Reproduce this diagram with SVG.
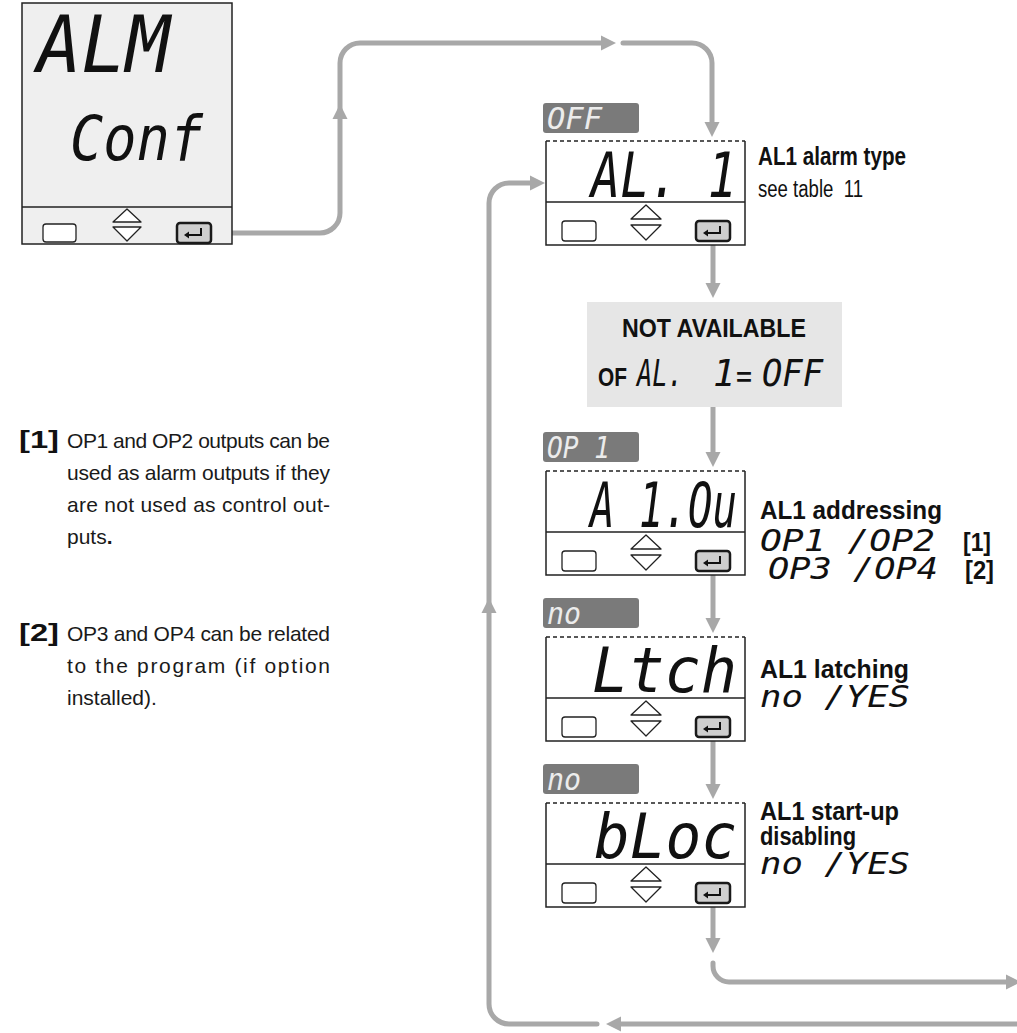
<svg xmlns="http://www.w3.org/2000/svg" xmlns:xlink="http://www.w3.org/1999/xlink" width="1017" height="1033" viewBox="0 0 1017 1033">
<style>
.bg{fill:#ffffff}
.edge{fill:none;stroke:#222;stroke-width:1.5}
.dash{fill:none;stroke:#222;stroke-width:1.5;stroke-dasharray:4 3}
.key{fill:#ffffff;stroke:#222;stroke-width:1.3}
.ent{fill:#cfcfcf;stroke:#1a1a1a;stroke-width:2.5}
.entsym{fill:none;stroke:#111;stroke-width:2}
.conn{fill:none;stroke:#a8a8a8;stroke-width:5}
.ah{fill:#a8a8a8}
.tag{fill:#7a7a7a}
.seg{font-family:"DejaVu Sans Mono",monospace;font-style:italic;fill:#111}
.tagt{font-family:"DejaVu Sans Mono",monospace;font-style:italic;fill:#ececec;font-size:30px}
.hd{font-family:"Liberation Sans Narrow","Liberation Sans",sans-serif;font-weight:bold;fill:#111;font-size:25px}
.rg{font-family:"Liberation Sans Narrow","Liberation Sans",sans-serif;fill:#111;font-size:23px}
.body{font-family:"Liberation Sans",Arial,sans-serif;fill:#1a1a1a;font-size:21px}
.bb{font-family:"Liberation Sans Narrow","Liberation Sans",sans-serif;font-weight:bold;fill:#111;font-size:23px}
</style>
<defs>
<path id="ah" class="ah" d="M0,0 L-15,-7.5 L-15,7.5 Z"/>
<g id="enter">
<rect class="ent" x="0" y="0" width="34" height="20" rx="3"/>
<path class="entsym" d="M24,5 V12 H11"/>
<path d="M7,12 L12,8.5 L12,15.5 Z" fill="#111"/>
</g>
<g id="keys">
<rect class="key" x="16" y="80" width="34" height="20" rx="3"/>
<path class="key" stroke-linejoin="round" d="M85,78 L100,64 L115,78 Z"/>
<path class="key" stroke-linejoin="round" d="M85,84 L115,84 L100,99 Z"/>
<use xlink:href="#enter" x="150" y="80"/>
</g>
</defs>
<rect class="bg" x="0" y="0" width="1017" height="1033"/>

<g id="connectors">
<path class="conn" d="M211,233 H320 A20,20 0 0 0 340,213 V63 A20,20 0 0 1 360,43 H604"/>
<use xlink:href="#ah" transform="translate(340,104) rotate(-90)"/>
<use xlink:href="#ah" transform="translate(616,43)"/>
<path class="conn" stroke-linecap="round" d="M623,43 H692 A20,20 0 0 1 712,63 V126"/>
<use xlink:href="#ah" transform="translate(712,137) rotate(90)"/>
<path class="conn" d="M713,241 V288"/>
<use xlink:href="#ah" transform="translate(713,298) rotate(90)"/>
<path class="conn" d="M713,407 V457"/>
<use xlink:href="#ah" transform="translate(713,467) rotate(90)"/>
<path class="conn" d="M713,574 V623"/>
<use xlink:href="#ah" transform="translate(713,633) rotate(90)"/>
<path class="conn" d="M713,740 V789"/>
<use xlink:href="#ah" transform="translate(713,799) rotate(90)"/>
<path class="conn" d="M713,906 V943"/>
<use xlink:href="#ah" transform="translate(713,953) rotate(90)"/>
<path class="conn" stroke-linecap="round" d="M713,963 V966 A16,16 0 0 0 729,982 H1010"/>
<use xlink:href="#ah" transform="translate(1021,982)"/>
<path class="conn" d="M1020,1024 H616"/>
<use xlink:href="#ah" transform="translate(606,1024) rotate(180)"/>
<path class="conn" stroke-linecap="round" d="M597,1024 H509 A20,20 0 0 1 489,1004 V203 A20,20 0 0 1 509,183 H533"/>
<use xlink:href="#ah" transform="translate(489,598) rotate(-90)"/>
<use xlink:href="#ah" transform="translate(545,183)"/>
</g>

<g id="node-almconf">
<rect x="22" y="3" width="210" height="241" fill="#efefef" stroke="#222" stroke-width="1.5"/>
<line class="edge" x1="22" y1="207" x2="232" y2="207"/>
<text class="seg" x="37" y="72" font-size="78" textLength="133" lengthAdjust="spacingAndGlyphs">ALM</text>
<text class="seg" x="70" y="160" font-size="62" textLength="133" lengthAdjust="spacingAndGlyphs">Conf</text>
<rect class="key" x="43" y="224" width="33" height="18" rx="3"/>
<path class="key" stroke-linejoin="round" d="M113,222 L127,209 L141,222 Z"/>
<path class="key" stroke-linejoin="round" d="M113,227 L141,227 L127,241 Z"/>
<use xlink:href="#enter" x="177" y="223"/>
</g>

<g id="node-al1">
<rect class="tag" x="543" y="103" width="96" height="30" rx="3"/>
<text class="tagt" x="547" y="129" textLength="55" lengthAdjust="spacingAndGlyphs">OFF</text>
<rect x="546" y="141" width="199" height="104" fill="#fff"/>
<path class="edge" d="M546,141 V245 H745 V141 M546,202 H745"/>
<path class="dash" d="M546,141 H745"/>
<text class="seg" x="591" y="197" font-size="62" textLength="146" lengthAdjust="spacingAndGlyphs">AL. 1</text>
<use xlink:href="#keys" transform="translate(546,141)"/>
<text class="hd" x="758" y="165" textLength="148" lengthAdjust="spacingAndGlyphs">AL1 alarm type</text>
<text class="rg" x="758" y="197" textLength="105" lengthAdjust="spacingAndGlyphs" xml:space="preserve">see table  11</text>
</g>

<g id="node-notavailable">
<rect x="587" y="302" width="255" height="105" fill="#e6e6e6"/>
<text class="hd" x="622" y="337" font-size="27" textLength="184" lengthAdjust="spacingAndGlyphs">NOT AVAILABLE</text>
<text class="hd" x="598" y="386" font-size="27" textLength="29" lengthAdjust="spacingAndGlyphs">OF</text>
<text class="seg" x="637" y="386" font-size="37" textLength="46" lengthAdjust="spacingAndGlyphs">AL.</text>
<text class="seg" x="713" y="386" font-size="37">1</text>
<text class="hd" x="736" y="386" font-size="27" textLength="16" lengthAdjust="spacingAndGlyphs">=</text>
<text class="seg" x="762" y="386" font-size="37" textLength="61" lengthAdjust="spacingAndGlyphs">OFF</text>
</g>

<g id="node-a1ou">
<rect class="tag" x="543" y="432" width="96" height="30" rx="3"/>
<text class="tagt" x="547" y="458" textLength="63" lengthAdjust="spacingAndGlyphs">OP 1</text>
<rect x="546" y="471" width="199" height="104" fill="#fff"/>
<path class="edge" d="M546,471 V575 H745 V471 M546,532 H745"/>
<path class="dash" d="M546,471 H745"/>
<text class="seg" x="590" y="527" font-size="62" textLength="147" lengthAdjust="spacingAndGlyphs">A 1.Ou</text>
<use xlink:href="#keys" transform="translate(546,471)"/>
<text class="hd" x="760" y="519" textLength="182" lengthAdjust="spacingAndGlyphs">AL1 addressing</text>
<text class="seg" x="760" y="551" font-size="30" textLength="175" lengthAdjust="spacingAndGlyphs">OP1 /OP2</text>
<text class="hd" x="963" y="551" textLength="28" lengthAdjust="spacingAndGlyphs">[1]</text>
<text class="seg" x="768" y="579" font-size="30" textLength="170" lengthAdjust="spacingAndGlyphs">OP3 /OP4</text>
<text class="hd" x="965" y="579" textLength="29" lengthAdjust="spacingAndGlyphs">[2]</text>
</g>

<g id="node-ltch">
<rect class="tag" x="543" y="598" width="96" height="30" rx="3"/>
<text class="tagt" x="547" y="624" textLength="34" lengthAdjust="spacingAndGlyphs">no</text>
<rect x="546" y="637" width="199" height="104" fill="#fff"/>
<path class="edge" d="M546,637 V741 H745 V637 M546,698 H745"/>
<path class="dash" d="M546,637 H745"/>
<text class="seg" x="592" y="692" font-size="62" textLength="145" lengthAdjust="spacingAndGlyphs">Ltch</text>
<use xlink:href="#keys" transform="translate(546,637)"/>
<text class="hd" x="760" y="678" textLength="149" lengthAdjust="spacingAndGlyphs">AL1 latching</text>
<text class="seg" x="760" y="707" font-size="30" textLength="150" lengthAdjust="spacingAndGlyphs">no /YES</text>
</g>

<g id="node-bloc">
<rect class="tag" x="543" y="764" width="96" height="30" rx="3"/>
<text class="tagt" x="547" y="790" textLength="34" lengthAdjust="spacingAndGlyphs">no</text>
<rect x="546" y="803" width="199" height="104" fill="#fff"/>
<path class="edge" d="M546,803 V907 H745 V803 M546,864 H745"/>
<path class="dash" d="M546,803 H745"/>
<text class="seg" x="594" y="858" font-size="62" textLength="143" lengthAdjust="spacingAndGlyphs">bLoc</text>
<use xlink:href="#keys" transform="translate(546,803)"/>
<text class="hd" x="760" y="820" textLength="139" lengthAdjust="spacingAndGlyphs">AL1 start-up</text>
<text class="hd" x="760" y="845" textLength="96" lengthAdjust="spacingAndGlyphs">disabling</text>
<text class="seg" x="760" y="874" font-size="30" textLength="150" lengthAdjust="spacingAndGlyphs">no /YES</text>
</g>

<g id="notes">
<text class="bb" x="19" y="448" textLength="40" lengthAdjust="spacingAndGlyphs">[1]</text>
<text class="body" x="67" y="448" textLength="263" lengthAdjust="spacing">OP1 and OP2 outputs can be</text>
<text class="body" x="67" y="480" textLength="263" lengthAdjust="spacing">used as alarm outputs if they</text>
<text class="body" x="67" y="512" textLength="263" lengthAdjust="spacing">are not used as control out-</text>
<text class="body" x="67" y="544">puts<tspan font-weight="bold">.</tspan></text>
<text class="bb" x="19" y="641" textLength="40" lengthAdjust="spacingAndGlyphs">[2]</text>
<text class="body" x="67" y="641" textLength="263" lengthAdjust="spacing">OP3 and OP4 can be related</text>
<text class="body" x="67" y="673" textLength="263" lengthAdjust="spacing">to the program (if option</text>
<text class="body" x="67" y="705">installed).</text>
</g>
</svg>
